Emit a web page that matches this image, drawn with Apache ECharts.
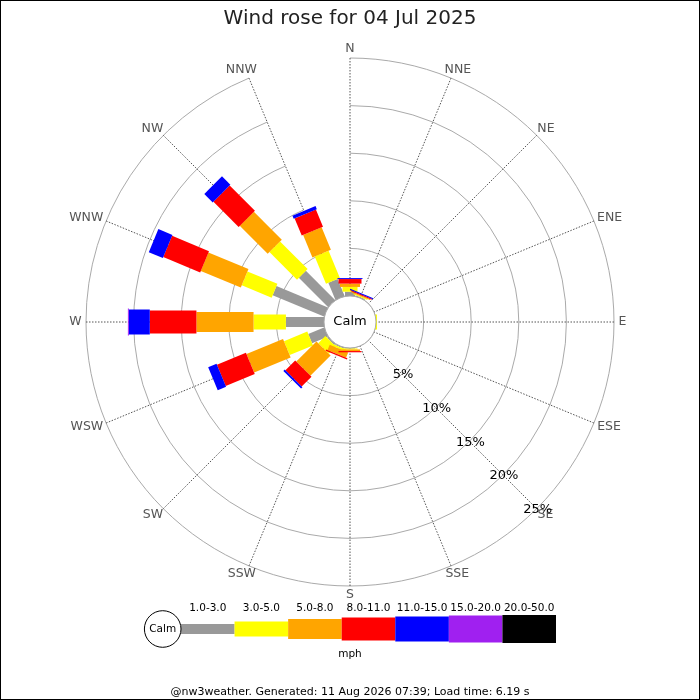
<!DOCTYPE html>
<html>
<head>
<meta charset="utf-8">
<script src="https://cdn.jsdelivr.net/npm/echarts@6/dist/echarts.min.js"></script>
<style>
  html, body { margin: 0; padding: 0; background: #fff; }
  #wrap { position: relative; width: 700px; height: 700px; }
  #chart { width: 700px; height: 700px; }
  #frame { position: absolute; left: 0; top: 0; width: 700px; height: 700px; box-sizing: border-box; border: 1px solid #000; pointer-events: none; }
</style>
</head>
<body>
<div id="wrap"><div id="chart"></div><div id="frame"></div></div>
<script>
// ---- data ----
const directions = ['N','NNE','NE','ENE','E','ESE','SE','SSE','S','SSW','SW','WSW','W','WNW','NW','NNW'];
const speedClasses = ['1.0-3.0','3.0-5.0','5.0-8.0','8.0-11.0','11.0-15.0','15.0-20.0','20.0-50.0'];
// percentage of time per direction, per speed class (mph)
const spd1to3   = [0.45,0.10,0,0,0,   0,0,0,0.05,0.10,0.15,1.80,4.00,5.85,4.35,1.95];
const spd3to5   = [0.50,0.10,0,0,0.10,0,0,0,0.10,0.20,1.05,2.65,3.40,3.40,4.10,3.10];
const spd5to8   = [0.35,0.10,0,0,0,   0,0,0,0.17,0.60,3.00,4.15,6.00,4.55,4.15,2.55];
const spd8to11  = [0.48,0.10,0,0,0,   0,0,0,0.13,0.13,1.45,3.30,4.90,4.20,3.75,1.95];
const spd11to15 = [0.10,0.10,0,0,0,   0,0,0,0,   0,   0.20,0.95,2.20,1.60,1.25,0.35];
const spd15to20 = [0,   0,   0,0,0,   0,0,0,0,   0,   0,   0,   0.10,0,   0,   0];
const spd20to50 = [0,   0,   0,0,0,   0,0,0,0,   0,   0,   0,   0,   0,   0,   0];
const pctTicks = [5,10,15,20,25];
const unitLabel = 'mph';
const calmLabel = 'Calm';
const titleText = 'Wind rose for 04 Jul 2025';
const footerText = '@nw3weather. Generated: 11 Aug 2026 07:39; Load time: 6.19 s';

// ---- styles ----
const classValues = [spd1to3, spd3to5, spd5to8, spd8to11, spd11to15, spd15to20, spd20to50];
const classColors = ['#999999','#ffff00','#ffa500','#ff0000','#0000ff','#a020f0','#000000'];
const classWidths = [10, 15, 20, 23, 25, 27, 28];
const FONT = 'DejaVu Sans';
const DIR_FONT_SIZE = 12.5;
const dirFont = DIR_FONT_SIZE + 'px "' + FONT + '"';
const measureCtx = document.createElement('canvas').getContext('2d');
function textWidth(t, font) { measureCtx.font = font; return measureCtx.measureText(t).width; }

// cumulative stacking
const cum = directions.map(() => 0);
const barSeries = classValues.map((vals, ci) => {
  const data = vals.map((v, di) => {
    const start = cum[di];
    cum[di] += v;
    return [start + v, di, start, v];
  });
  return {
    type: 'custom',
    coordinateSystem: 'polar',
    silent: true,
    z: 3,
    data: data,
    renderItem: function (params, api) {
      const v = api.value(3);
      if (!v) return null;
      const cs = params.coordSys;
      const c = [cs.cx, cs.cy];
      const di = api.value(1);
      const start = api.value(2);
      const pEnd = api.coord([api.value(0), di]);
      const dx = pEnd[0] - c[0], dy = pEnd[1] - c[1];
      const len = Math.hypot(dx, dy);
      const ux = dx / len, uy = dy / len;
      const nx = -uy, ny = ux;
      let rs = 0;
      if (start > 0) {
        const pS = api.coord([start, di]);
        rs = Math.hypot(pS[0] - c[0], pS[1] - c[1]);
      }
      const s0 = [c[0] + ux * rs, c[1] + uy * rs];
      const hw = classWidths[ci] / 2;
      return {
        type: 'polygon',
        shape: { points: [
          [s0[0] + nx * hw, s0[1] + ny * hw],
          [pEnd[0] + nx * hw, pEnd[1] + ny * hw],
          [pEnd[0] - nx * hw, pEnd[1] - ny * hw],
          [s0[0] - nx * hw, s0[1] - ny * hw]
        ] },
        style: { fill: classColors[ci], stroke: null }
      };
    }
  };
});

// compass labels outside the outer ring
const dirLabelSeries = {
  type: 'custom',
  coordinateSystem: 'polar',
  silent: true,
  z: 5,
  data: directions.map((d, i) => [pctTicks[pctTicks.length - 1], i]),
  renderItem: function (params, api) {
    const cs = params.coordSys;
    const i = api.value(1);
    const p = api.coord([api.value(0), i]);
    const dx = p[0] - cs.cx, dy = p[1] - cs.cy;
    const len = Math.hypot(dx, dy);
    const ux = dx / len, uy = dy / len;
    const rr = cs.r + 4.5;
    const w = textWidth(directions[i], dirFont);
    const h = 9;
    return {
      type: 'text',
      x: cs.cx + ux * rr + ux * w / 2,
      y: cs.cy + uy * rr + uy * h / 2,
      style: { text: directions[i], fill: '#555', font: dirFont, align: 'center', verticalAlign: 'middle' }
    };
  }
};

const seIndex = directions.indexOf('SE');
const pctLabelSeries = {
  type: 'custom',
  coordinateSystem: 'polar',
  silent: true,
  z: 6,
  data: pctTicks.map(v => [v, seIndex]),
  renderItem: function (params, api) {
    const p = api.coord([api.value(0), api.value(1)]);
    return {
      type: 'text',
      x: p[0] + 1, y: p[1] + 1,
      style: { text: api.value(0) + '%', fill: '#000', font: '13px "' + FONT + '"', align: 'center', verticalAlign: 'middle' }
    };
  }
};

const calmSeries = {
  type: 'custom',
  coordinateSystem: 'polar',
  silent: true,
  z: 10,
  data: [[0, 0]],
  renderItem: function (params, api) {
    const cs = params.coordSys;
    return {
      type: 'group',
      children: [
        { type: 'circle', shape: { cx: cs.cx, cy: cs.cy, r: cs.r0 }, style: { fill: '#fff', stroke: '#aaaaaa', lineWidth: 1 } },
        { type: 'text', x: cs.cx, y: cs.cy, style: { text: calmLabel, fill: '#000', font: '13px "' + FONT + '"', align: 'center', verticalAlign: 'middle' } }
      ]
    };
  }
};

const legendSeries = {
  type: 'custom',
  coordinateSystem: 'cartesian2d',
  xAxisIndex: 0, yAxisIndex: 0,
  silent: true,
  data: speedClasses.map((_, i) => [i, 0]),
  renderItem: function (params, api) {
    const i = api.value(0);
    const p = api.coord([i, 0]);
    const bw = api.size([1, 0])[0];
    const h = classWidths[i];
    const children = [
      { type: 'rect', shape: { x: p[0] - bw / 2, y: p[1] - h / 2, width: bw, height: h }, style: { fill: classColors[i] } }
    ];
    if (i === 0) {
      const cr = 18.3;
      children.push({ type: 'circle', shape: { cx: p[0] - bw / 2 - cr, cy: p[1], r: cr }, style: { fill: '#fff', stroke: '#000', lineWidth: 1 } });
      children.push({ type: 'text', x: p[0] - bw / 2 - cr, y: p[1], style: { text: calmLabel, fill: '#000', font: '10.5px "' + FONT + '"', align: 'center', verticalAlign: 'middle' } });
    }
    return { type: 'group', children: children };
  }
};

const chart = echarts.init(document.getElementById('chart'), null, { renderer: 'canvas' });
chart.setOption({
  animation: false,
  backgroundColor: '#fff',
  textStyle: { fontFamily: FONT },
  title: [
    { text: titleText, left: 'center', top: 4, textStyle: { fontFamily: FONT, fontSize: 20, fontWeight: 'normal', color: '#222' } },
    { text: unitLabel, left: 'center', top: 644, textStyle: { fontFamily: FONT, fontSize: 10.5, fontWeight: 'normal', color: '#000' } },
    { text: footerText, left: 'center', top: 682, textStyle: { fontFamily: FONT, fontSize: 11, fontWeight: 'normal', color: '#000' } }
  ],
  polar: { center: [350, 322], radius: [26, 264] },
  angleAxis: {
    type: 'category',
    data: directions,
    startAngle: 90,
    clockwise: true,
    boundaryGap: false,
    axisLine: { show: false },
    axisTick: { show: false },
    axisLabel: { show: false },
    splitLine: { show: true, lineStyle: { color: '#555', width: 1, type: [1.5, 1.5] } }
  },
  radiusAxis: {
    type: 'value',
    min: 0, max: 25, interval: 5,
    axisLine: { show: false },
    axisTick: { show: false },
    axisLabel: { show: false },
    splitLine: { show: true, lineStyle: { color: '#aaaaaa', width: 1 } }
  },
  grid: { left: 181, top: 615, width: 375, height: 28 },
  xAxis: {
    type: 'category',
    data: speedClasses,
    position: 'top',
    axisLine: { show: false },
    axisTick: { show: false },
    splitLine: { show: false },
    axisLabel: { show: true, interval: 0, color: '#000', fontSize: 10.5, margin: 1, fontFamily: FONT }
  },
  yAxis: { type: 'value', min: -1, max: 1, show: false, splitLine: { show: false } },
  series: barSeries.concat([dirLabelSeries, pctLabelSeries, calmSeries, legendSeries])
});
</script>
</body>
</html>
